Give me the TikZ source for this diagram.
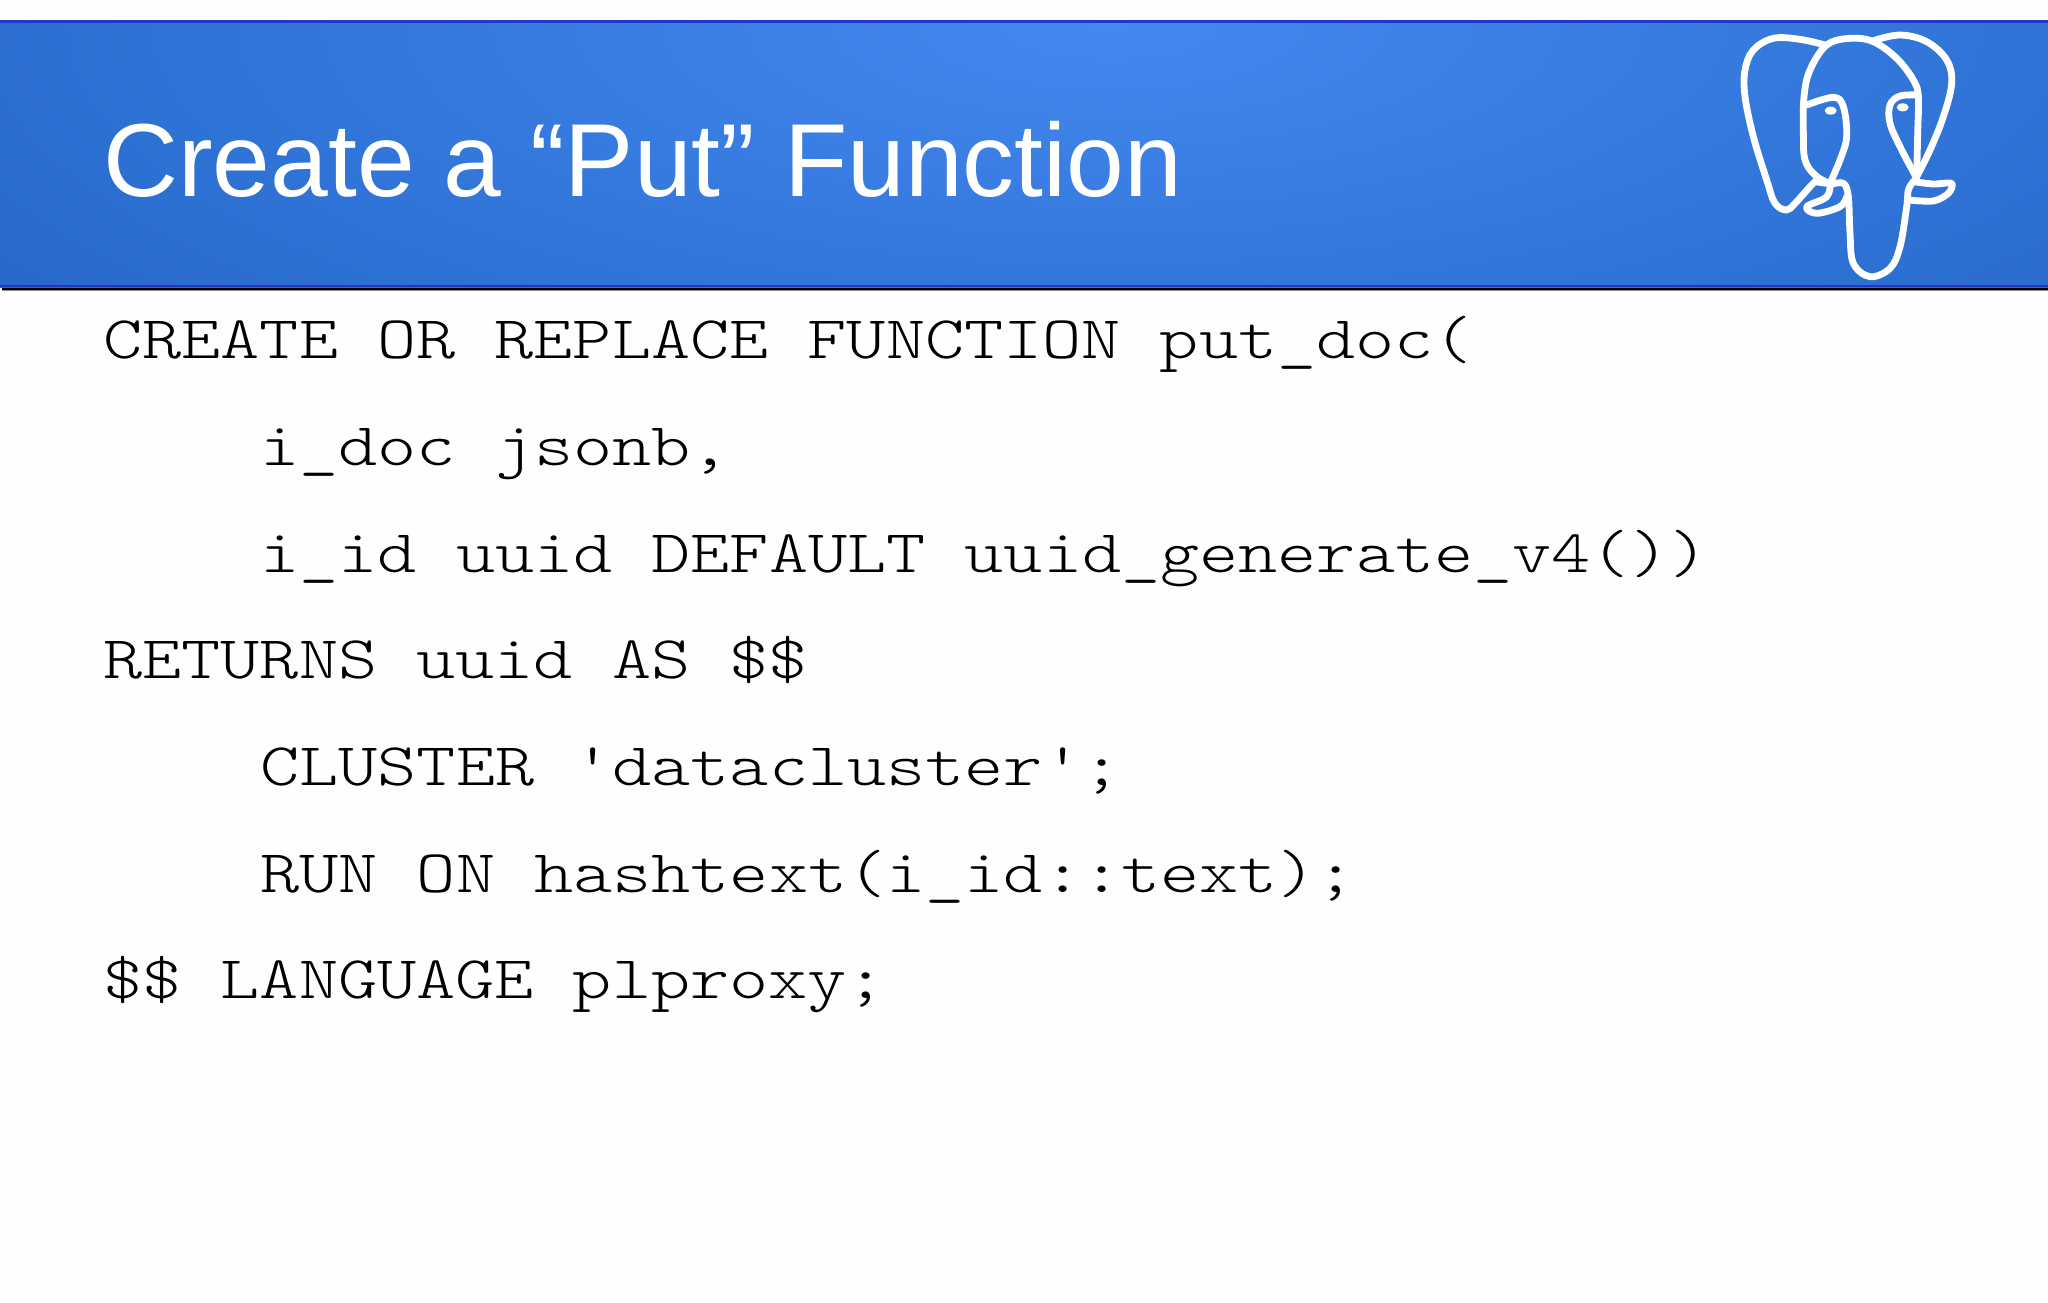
\documentclass[tikz,border=0pt]{standalone}
\usepackage{fontspec}
\setmainfont{Liberation Sans}
\setmonofont{Latin Modern Mono Light}[FakeStretch=1.23]
\tikzset{
  titletext/.style={anchor=base west,inner sep=0pt,text=white,font=\fontsize{51.9}{52}\selectfont},
  codeline/.style={anchor=base west,inner sep=0pt,text=black,font=\ttfamily\fontsize{30.3}{30.3}\selectfont},
  logoline/.style={draw=white,line width=3.4pt,line cap=round,line join=round}
}
\definecolor{bandedge}{HTML}{2568C9}
\definecolor{bandglow}{HTML}{4489F0}
\definecolor{bandline}{HTML}{2236C8}
\definecolor{pagebg}{HTML}{FEFEFE}
\begin{document}
\begin{tikzpicture}[x=0.5pt,y=-0.5pt]
\useasboundingbox (0,0) rectangle (2048,1302);
\fill[pagebg] (0,0) rectangle (2048,1302);
\fill[black!45] (2,288) rectangle (2048,291);
\fill[black] (2,285) rectangle (2048,289.5);
\begin{scope}
  \clip (0,20) rectangle (2048,287);
  \fill[bandedge] (0,20) rectangle (2048,287);
  \shade[inner color=bandglow,outer color=bandedge] (1110,20) ellipse [x radius=1400,y radius=480];
\end{scope}
\fill[bandline] (0,20) rectangle (2048,23);
\fill[bandline] (0,284.5) rectangle (2048,286.8);
\node[titletext] (title) at (103,196) {Create a “Put” Function};
\node[codeline] (l1) at (103,358.5) {CREATE OR REPLACE FUNCTION put\_doc(};
\node[codeline] (l2) at (260,465.2) {i\_doc jsonb,};
\node[codeline] (l3) at (260,572) {i\_id uuid DEFAULT uuid\_generate\_v4())};
\node[codeline] (l4) at (103,678.6) {RETURNS uuid AS \$\$};
\node[codeline] (l5) at (260,785.4) {CLUSTER 'datacluster';};
\node[codeline] (l6) at (260,892) {RUN ON hashtext(i\_id::text);};
\node[codeline] (l7) at (103,998.8) {\$\$ LANGUAGE plproxy;};
\begin{scope}[shift={(1700,0)},scale=1/3]
  \draw[logoline] plot[smooth,tension=0.6] coordinates {(375,135) (300,118) (220,115) (160,150) (135,210) (135,290) (160,410) (200,540) (225,610) (260,630) (285,610) (330,560) (350,540)};
  \draw[logoline] plot[smooth,tension=0.6] coordinates {(650,530) (653,400) (655,290) (640,240) (590,175) (520,125) (450,115) (380,135) (330,210) (312,290) (310,400) (315,480) (345,525) (390,550) (430,550) (445,590) (450,700) (460,790) (510,830) (570,805) (600,740) (620,620) (625,570) (640,545)};
  \draw[logoline] plot[smooth,tension=0.6] coordinates {(520,122) (600,105) (680,125) (740,180) (755,250) (730,350) (690,450) (650,530) (640,545)};
  \draw[logoline] plot[smooth,tension=0.5] coordinates {(640,545) (700,552) (755,550) (745,580) (700,603) (625,600)};
  \draw[logoline] plot[smooth,tension=0.6] coordinates {(320,315) (400,292) (430,320) (440,410) (420,480) (395,540) (380,590) (320,620) (350,640) (420,620) (440,590)};
  \draw[logoline] plot[smooth,tension=0.6] coordinates {(655,285) (600,288) (570,315) (570,370) (600,440) (645,525)};
  \draw[logoline] (345,545) -- (395,552);
  \fill[white] (392,332) ellipse [x radius=18,y radius=12];
  \fill[white] (608,322) ellipse [x radius=18,y radius=12];
\end{scope}
\end{tikzpicture}
\end{document}
